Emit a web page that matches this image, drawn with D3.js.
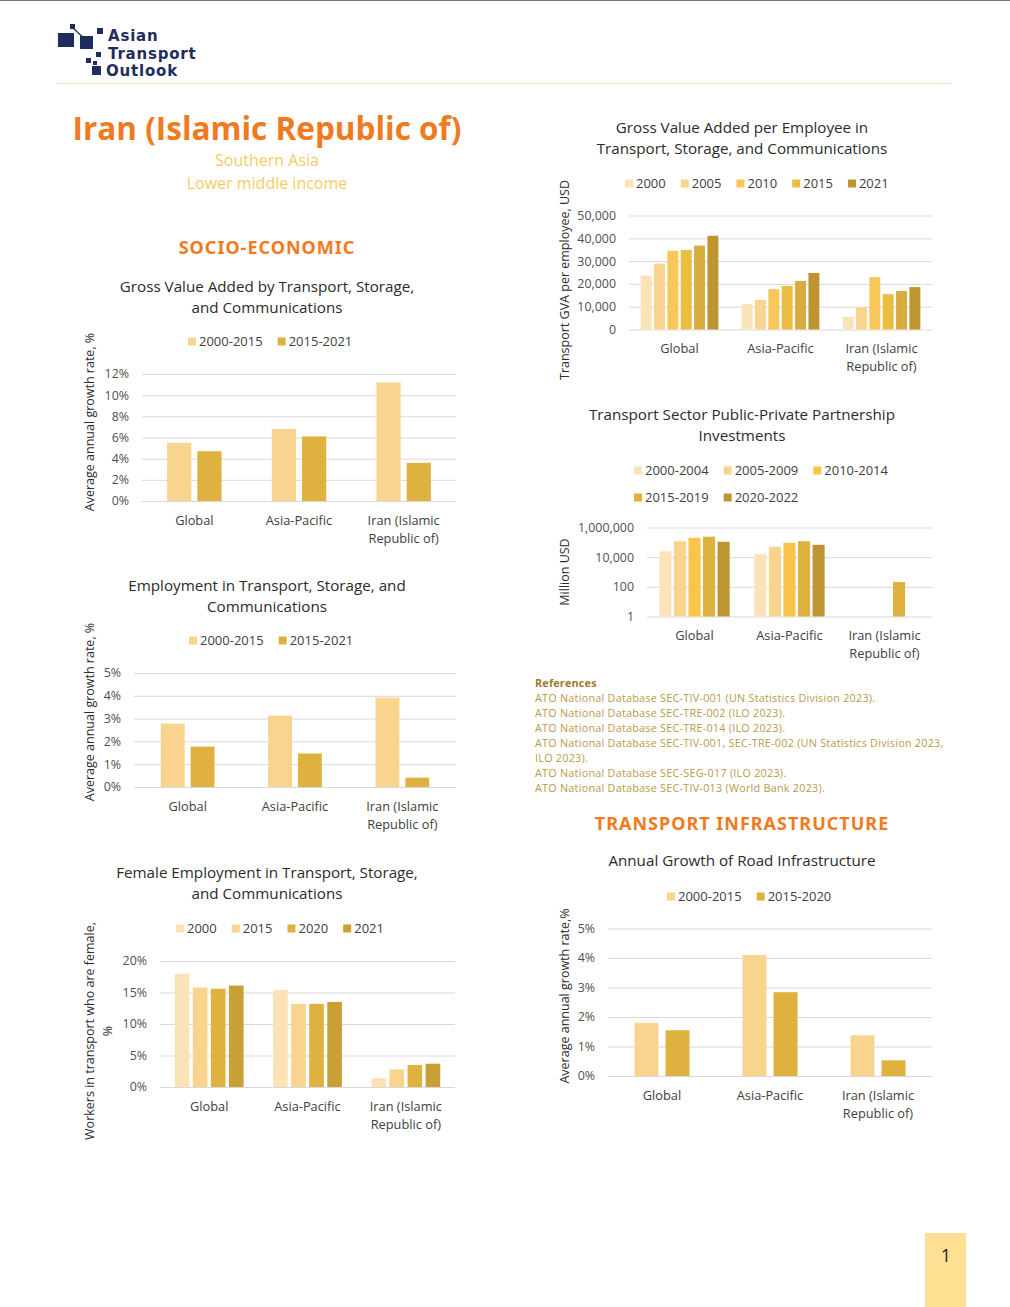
<!DOCTYPE html>
<html lang="en">
<head>
  <meta charset="UTF-8">
  <title>Iran (Islamic Republic of) - Asian Transport Outlook</title>
  <script src="https://d3js.org/d3.v7.min.js"></script>
  <style>
    * { margin: 0; padding: 0; }
    body { background: #fff; }
    svg { display: block; font-family: "Open Sans", sans-serif; }
  </style>
</head>
<body>
  <div id="page"></div>
  <script>
    // categories shared by every chart
    var categories = ["Global", "Asia-Pacific", "Iran (Islamic Republic of)"];
    var categoryLines = [["Global"], ["Asia-Pacific"], ["Iran (Islamic", "Republic of)"]];

    // GVA by transport, storage and communications, avg annual growth %
    var gvaPeriods = ["2000-2015", "2015-2021"];
    var gva2000_2015 = [5.5, 6.8, 11.2];
    var gva2015_2021 = [4.7, 6.1, 3.6];
    var gvaTicks = [0, 2, 4, 6, 8, 10, 12];

    // employment growth %
    var empPeriods = ["2000-2015", "2015-2021"];
    var emp2000_2015 = [2.78, 3.13, 3.92];
    var emp2015_2021 = [1.77, 1.47, 0.41];
    var empTicks = [0, 1, 2, 3, 4, 5];

    // female share of transport workers %
    var femaleYears = ["2000", "2015", "2020", "2021"];
    var female2000 = [18.0, 15.4, 1.4];
    var female2015 = [15.8, 13.2, 2.8];
    var female2020 = [15.6, 13.2, 3.5];
    var female2021 = [16.1, 13.5, 3.7];
    var femaleTicks = [0, 5, 10, 15, 20];

    // GVA per employee, USD (the 2020 series has no legend entry in the source)
    var gvaEmpYears = ["2000", "2005", "2010", "2015", "2020", "2021"];
    var gvaEmpLegend = ["2000", "2005", "2010", "2015", "2021"];
    var gvaEmp2000 = [23600, 11100, 5500];
    var gvaEmp2005 = [28900, 12900, 9800];
    var gvaEmp2010 = [34500, 17700, 23000];
    var gvaEmp2015 = [34900, 19100, 15500];
    var gvaEmp2020 = [36800, 21300, 16900];
    var gvaEmp2021 = [41100, 24800, 18600];
    var gvaEmpTicks = [0, 10000, 20000, 30000, 40000, 50000];

    // PPP investments, million USD (log scale)
    var pppPeriods = ["2000-2004", "2005-2009", "2010-2014", "2015-2019", "2020-2022"];
    var ppp2000_2004 = [25000, 16000, null];
    var ppp2005_2009 = [120000, 50000, null];
    var ppp2010_2014 = [200000, 93000, null];
    var ppp2015_2019 = [240000, 120000, 210];
    var ppp2020_2022 = [110000, 68000, null];
    var pppTicks = [1, 100, 10000, 1000000];

    // road infrastructure growth %
    var roadPeriods = ["2000-2015", "2015-2020"];
    var road2000_2015 = [1.80, 4.10, 1.38];
    var road2015_2020 = [1.55, 2.84, 0.53];
    var roadTicks = [0, 1, 2, 3, 4, 5];

    var references = [
      "ATO National Database SEC-TIV-001 (UN Statistics Division 2023).",
      "ATO National Database SEC-TRE-002 (ILO 2023).",
      "ATO National Database SEC-TRE-014 (ILO 2023).",
      "ATO National Database SEC-TIV-001, SEC-TRE-002 (UN Statistics Division 2023,",
      "ILO 2023).",
      "ATO National Database SEC-SEG-017 (ILO 2023).",
      "ATO National Database SEC-TIV-013 (World Bank 2023)."
    ];

    // palette
    var c1 = "#fbe3b8", c2 = "#f9d48e", c3 = "#f8c54a", c4 = "#dfb13e", c5 = "#bf9531";
    var orange = "#f07a1e", gold = "#f4cd62", navy = "#1f2d5e";

    var W = 1010, H = 1307;
    var svg = d3.select("#page").append("svg").attr("width", W).attr("height", H);

    // page frame
    svg.append("line").attr("x1", 0).attr("x2", W).attr("y1", 0.5).attr("y2", 0.5)
      .attr("stroke", "#777").attr("stroke-width", 1);
    svg.append("line").attr("x1", 57).attr("x2", 952).attr("y1", 83.5).attr("y2", 83.5)
      .attr("stroke", "#fbe1ac").attr("stroke-width", 1);

    // logo
    var logo = svg.append("g");
    logo.append("line").attr("x1", 72).attr("y1", 27).attr("x2", 89).attr("y2", 43)
      .attr("stroke", navy).attr("stroke-width", 1.2);
    [[58, 33, 16, 14], [80, 36, 13, 13], [70, 24, 5, 5], [97, 28, 6, 6],
     [96, 52, 5, 5], [86, 58, 5, 5], [93, 61, 4, 4], [92, 66, 9, 9]].forEach(function (r) {
      logo.append("rect").attr("x", r[0]).attr("y", r[1]).attr("width", r[2]).attr("height", r[3])
        .attr("fill", navy);
    });
    ["Asian", "Transport", "Outlook"].forEach(function (t, i) {
      logo.append("text").attr("x", i == 2 ? 106 : 108).attr("y", 41 + i * 17.5).text(t)
        .attr("font-size", 15).attr("font-weight", 700).attr("fill", navy)
        .attr("letter-spacing", 0.8)
        .attr("font-family", "'DejaVu Sans', sans-serif");
    });

    // country heading
    svg.append("text").attr("x", 267).attr("y", 140).attr("text-anchor", "middle")
      .text("Iran (Islamic Republic of)").attr("font-size", 31.5).attr("font-weight", 700).attr("fill", orange);
    svg.append("text").attr("x", 267).attr("y", 166).attr("text-anchor", "middle")
      .text("Southern Asia").attr("font-size", 16).attr("fill", gold);
    svg.append("text").attr("x", 267).attr("y", 189).attr("text-anchor", "middle")
      .text("Lower middle income").attr("font-size", 16).attr("fill", gold);

    function sectionTitle(t, x, y) {
      svg.append("text").attr("x", x).attr("y", y).attr("text-anchor", "middle").text(t)
        .attr("font-size", 18).attr("font-weight", 700).attr("fill", orange)
        .attr("letter-spacing", 1)
        .attr("font-family", "'Noto Sans', sans-serif");
    }
    sectionTitle("SOCIO-ECONOMIC", 267, 254);
    sectionTitle("TRANSPORT INFRASTRUCTURE", 742, 830);

    // references
    svg.append("text").attr("x", 535).attr("y", 687).text("References")
      .attr("font-size", 10.8).attr("font-weight", 700).attr("fill", "#9e7c2c").attr("letter-spacing", 0.2);
    references.forEach(function (r, i) {
      svg.append("text").attr("x", 535).attr("y", 702 + i * 15).text(r)
        .attr("font-size", 10.8).attr("fill", "#b99a4c").attr("letter-spacing", 0.25);
    });

    // page number
    svg.append("rect").attr("x", 925).attr("y", 1233).attr("width", 41).attr("height", 74).attr("fill", "#ffdf92");
    svg.append("text").attr("x", 946).attr("y", 1262).attr("text-anchor", "middle").text("1")
      .attr("font-size", 18).attr("fill", "#222");

    // grouped bar chart
    function barChart(cfg) {
      var g = svg.append("g");

      cfg.title.forEach(function (t, i) {
        g.append("text").attr("x", cfg.titleX).attr("y", cfg.titleY + i * 21).attr("text-anchor", "middle")
          .text(t).attr("font-size", 15.2).attr("fill", "#2b2b2b");
      });

      // legend
      cfg.legendRows.forEach(function (row, ri) {
        var lx = cfg.legendX;
        row.forEach(function (name) {
          var si = cfg.series.indexOf(name);
          var ly = cfg.legendY + ri * 27;
          g.append("rect").attr("x", lx).attr("y", ly - 8.5).attr("width", 8).attr("height", 8)
            .attr("fill", cfg.colors[si]);
          var t = g.append("text").attr("x", lx + 11).attr("y", ly).text(name)
            .attr("font-size", 13).attr("fill", "#404040");
          lx += 11 + t.node().getComputedTextLength() + 15;
        });
      });

      var x = d3.scaleBand().domain(categories).range([cfg.x0, cfg.x1])
        .paddingInner(cfg.groupPad).paddingOuter(cfg.groupPad / 2);
      var xs = d3.scaleBand().domain(cfg.series).range([0, x.bandwidth()]).paddingInner(cfg.barPad);
      var y = cfg.log
        ? d3.scaleLog().domain(cfg.domain).range([cfg.y0, cfg.y1])
        : d3.scaleLinear().domain(cfg.domain).range([cfg.y0, cfg.y1]);

      // grid + y ticks
      var ya = g.append("g").attr("transform", "translate(" + cfg.x0 + ",0)")
        .call(d3.axisLeft(y).tickValues(cfg.ticks).tickSize(-(cfg.x1 - cfg.x0)).tickPadding(13)
          .tickFormat(cfg.fmt));
      ya.select(".domain").remove();
      ya.selectAll(".tick line").attr("stroke", "#d9d9d9");
      ya.selectAll(".tick text").attr("font-size", 12.4).attr("fill", "#505050")
        .attr("font-family", "'Open Sans', sans-serif");

      // bars
      cfg.values.forEach(function (vals, si) {
        g.append("g").selectAll("rect")
          .data(vals.map(function (v, ci) { return { c: categories[ci], v: v }; })
            .filter(function (d) { return d.v != null; }))
          .enter().append("rect")
          .attr("x", function (d) { return x(d.c) + xs(cfg.series[si]); })
          .attr("width", xs.bandwidth())
          .attr("y", function (d) { return y(d.v); })
          .attr("height", function (d) { return cfg.y0 - y(d.v); })
          .attr("fill", cfg.colors[si]);
      });

      // category labels
      var xa = g.append("g").attr("transform", "translate(0," + cfg.y0 + ")")
        .call(d3.axisBottom(x).tickSize(0));
      xa.select(".domain").remove();
      xa.selectAll(".tick text").each(function (d, i) {
        var t = d3.select(this).text(null).attr("y", 0).attr("dy", null)
          .attr("font-size", 12.8).attr("fill", "#404040").attr("font-family", "'Open Sans', sans-serif");
        categoryLines[i].forEach(function (line, li) {
          t.append("tspan").attr("x", 0).attr("y", 23.5 + li * 18).text(line);
        });
      });

      // y axis title
      var yt = g.append("text").attr("transform", "translate(" + cfg.ytX + "," + cfg.ytY + ") rotate(-90)")
        .attr("text-anchor", "middle").attr("font-size", 12.5).attr("fill", "#2b2b2b");
      cfg.yTitle.forEach(function (line, li) {
        yt.append("tspan").attr("x", 0).attr("y", li * 18).text(line);
      });
    }

    var pct = function (d) { return d + "%"; };

    barChart({
      title: ["Gross Value Added by Transport, Storage,", "and Communications"], titleX: 267, titleY: 292,
      series: gvaPeriods, values: [gva2000_2015, gva2015_2021], colors: [c2, c4],
      legendRows: [gvaPeriods], legendX: 188, legendY: 346,
      x0: 142, x1: 456, y0: 501, y1: 374, domain: [0, 12], ticks: gvaTicks, fmt: pct,
      groupPad: 0.48, barPad: 0.2,
      yTitle: ["Average annual growth rate, %"], ytX: 94, ytY: 422
    });

    barChart({
      title: ["Employment in Transport, Storage, and", "Communications"], titleX: 267, titleY: 591,
      series: empPeriods, values: [emp2000_2015, emp2015_2021], colors: [c2, c4],
      legendRows: [empPeriods], legendX: 189, legendY: 645,
      x0: 134, x1: 456, y0: 787, y1: 673, domain: [0, 5], ticks: empTicks, fmt: pct,
      groupPad: 0.5, barPad: 0.2,
      yTitle: ["Average annual growth rate, %"], ytX: 94, ytY: 712
    });

    barChart({
      title: ["Female Employment in Transport, Storage,", "and Communications"], titleX: 267, titleY: 878,
      series: femaleYears, values: [female2000, female2015, female2020, female2021], colors: [c1, c2, c4, "#c9a035"],
      legendRows: [femaleYears], legendX: 176, legendY: 933,
      x0: 160, x1: 455, y0: 1087, y1: 961, domain: [0, 20], ticks: femaleTicks, fmt: pct,
      groupPad: 0.30, barPad: 0.19,
      yTitle: ["Workers in transport who are female,", "%"], ytX: 94, ytY: 1031
    });

    barChart({
      title: ["Gross Value Added per Employee in", "Transport, Storage, and Communications"], titleX: 742, titleY: 133,
      series: gvaEmpYears, values: [gvaEmp2000, gvaEmp2005, gvaEmp2010, gvaEmp2015, gvaEmp2020, gvaEmp2021],
      colors: [c1, c2, "#f8c75a", "#ebbd40", "#d8ac3e", c5],
      legendRows: [gvaEmpLegend], legendX: 625, legendY: 188,
      x0: 629, x1: 932, y0: 329.5, y1: 215.5, domain: [0, 50000], ticks: gvaEmpTicks, fmt: d3.format(","),
      groupPad: 0.23, barPad: 0.18,
      yTitle: ["Transport GVA per employee, USD"], ytX: 569, ytY: 280
    });

    barChart({
      title: ["Transport Sector Public-Private Partnership", "Investments"], titleX: 742, titleY: 420,
      series: pppPeriods, values: [ppp2000_2004, ppp2005_2009, ppp2010_2014, ppp2015_2019, ppp2020_2022],
      colors: [c1, c2, c3, c4, c5],
      legendRows: [pppPeriods.slice(0, 3), pppPeriods.slice(3)], legendX: 634, legendY: 475,
      x0: 647, x1: 932, y0: 616.5, y1: 527.5, domain: [1, 1000000], ticks: pppTicks, fmt: d3.format(","),
      log: true, groupPad: 0.26, barPad: 0.17,
      yTitle: ["Million USD"], ytX: 569, ytY: 572
    });

    barChart({
      title: ["Annual Growth of Road Infrastructure"], titleX: 742, titleY: 866,
      series: roadPeriods, values: [road2000_2015, road2015_2020], colors: [c2, c4],
      legendRows: [roadPeriods], legendX: 667, legendY: 901,
      x0: 608, x1: 932, y0: 1076, y1: 928.5, domain: [0, 5], ticks: roadTicks, fmt: pct,
      groupPad: 0.49, barPad: 0.23,
      yTitle: ["Average annual growth rate,%"], ytX: 569, ytY: 996
    });
  </script>
</body>
</html>
